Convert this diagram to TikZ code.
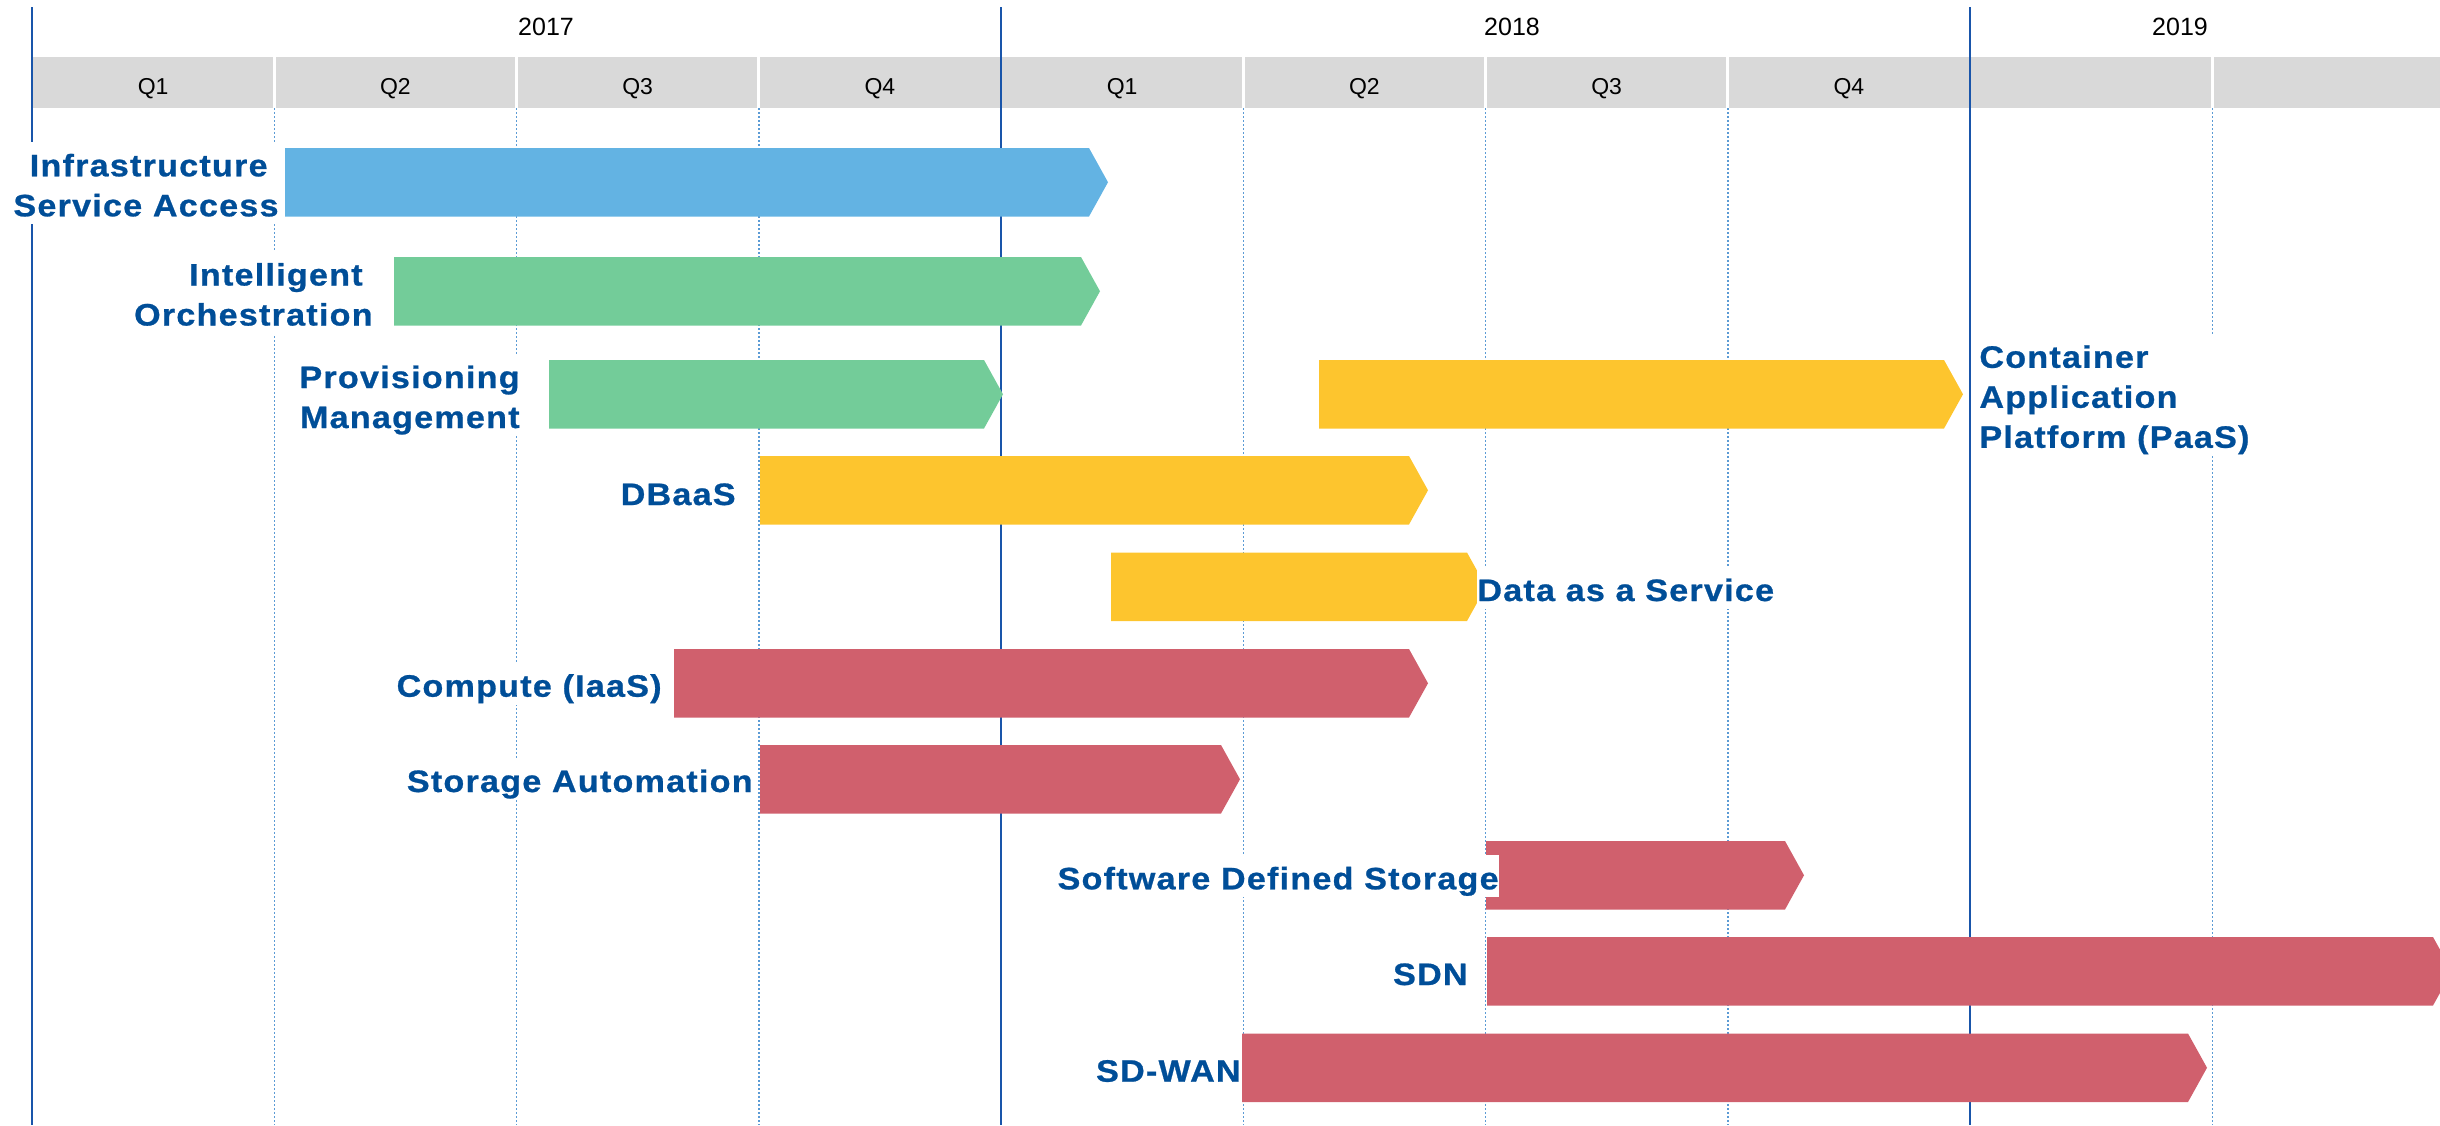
\documentclass[tikz,border=0pt]{standalone}
\usepackage{fontspec}
\setmainfont{Liberation Sans}
\newfontfamily\lblfont[FakeStretch=1.1, LetterSpace=4, BoldFeatures={FakeBold=0.8}]{Liberation Sans}
\definecolor{lblblue}{RGB}{0,78,152}
\definecolor{barblue}{RGB}{99,179,227}
\definecolor{bargreen}{RGB}{115,204,153}
\definecolor{baryellow}{RGB}{253,197,46}
\definecolor{barred}{RGB}{208,96,109}
\definecolor{bandgray}{RGB}{217,217,217}
\definecolor{yearline}{RGB}{25,85,170}
\definecolor{qline}{RGB}{91,155,213}
\newcommand\lbtop{\rule{0pt}{17pt}}
\newcommand\lbbot{\rule[-4pt]{0pt}{4pt}}
% colour, name, left, top, tip
\newcommand\ganttbar[5]{%
  \fill[#1] (#3,#4) -- ({#5-19},#4) -- (#5,{#4+34.25}) -- ({#5-19},{#4+68.5}) -- (#3,{#4+68.5}) -- cycle;
  \coordinate (#2) at (#3,{#4+34.25});}
\begin{document}
\begin{tikzpicture}[x=0.5pt,y=-0.5pt,
  lbl/.style={inner sep=0pt, fill=white, text=lblblue, font=\lblfont\bfseries\fontsize{15.5pt}{20pt}\selectfont},
  lbr/.style={lbl, anchor=east, align=right},
  lbw/.style={lbl, anchor=west, align=left},
  yeartxt/.style={anchor=base, inner sep=0pt, text=black, font=\fontsize{12.5pt}{14pt}\selectfont},
  qtxt/.style={anchor=base, inner sep=0pt, text=black, font=\fontsize{11.5pt}{13pt}\selectfont},
  yrule/.style={draw=yearline, line width=1pt},
  qrule/.style={draw=qline, line width=0.75pt, dash pattern=on 1pt off 1pt},
  sepline/.style={draw=white, line width=1.5pt}]
\useasboundingbox (0,0) rectangle (2440,1125);
\clip (0,0) rectangle (2440,1125);
% header band
\fill[bandgray] (32,57) rectangle (2440,108);
\foreach \k in {1,2,3,5,6,7,9} {
  \draw[sepline] ({32+242.25*\k},57) -- ({32+242.25*\k},108);
  \draw[qrule] ({32+242.25*\k},108) -- ({32+242.25*\k},1125);
}
\foreach \k in {0,4,8} {
  \draw[yrule] ({32+242.25*\k},7) -- ({32+242.25*\k},1125);
}
% header texts
\node[yeartxt] (y2017) at (546,35) {2017};
\node[yeartxt] (y2018) at (1512,35) {2018};
\node[yeartxt] (y2019) at (2180,35) {2019};
\foreach \q/\k in {Q1/0,Q2/1,Q3/2,Q4/3} {
  \node[qtxt] (a\q) at ({32+242.25*\k+121.1},94.5) {\q};
  \node[qtxt] (b\q) at ({1001+242.25*\k+121.1},94.5) {\q};
}
% bars
\ganttbar{barblue}{isa}{285}{148}{1108}
\ganttbar{bargreen}{io}{394}{257}{1100}
\ganttbar{bargreen}{pm}{549}{360}{1003}
\ganttbar{baryellow}{cap}{1319}{360}{1963}
\ganttbar{baryellow}{dbaas}{760}{456}{1428}
\ganttbar{baryellow}{daas}{1111}{552.5}{1486}
\ganttbar{barred}{iaas}{674}{649}{1428}
\ganttbar{barred}{sa}{760}{745}{1240}
\ganttbar{barred}{sds}{1486}{841}{1804}
\ganttbar{barred}{sdn}{1487}{937}{2452}
\ganttbar{barred}{sdwan}{1242}{1033.5}{2207}
% labels
\node[lbr] (lisa) at (279,183.3) {\lbtop Infrastructure\hspace*{5.5pt}\\Service Access\lbbot};
\node[lbr] (lio) at (373,292.5) {\lbtop Intelligent\hspace*{5pt}\\Orchestration\lbbot};
\node[lbr] (lpm) at (520,395) {\lbtop Provisioning\\Management\lbbot};
\node[lbw] (lcap) at (1979,394.8) {\lbtop Container\\Application\\Platform (PaaS)\lbbot};
\node[lbr] (ldbaas) at (736,492) {\lbtop\lbbot DBaaS};
\node[lbw] (ldaas) at (1477,588) {\lbtop\lbbot Data as a Service};
\node[lbr] (liaas) at (662,683.7) {\lbtop\lbbot Compute (IaaS)};
\node[lbr] (lsa) at (753,779) {\lbtop\lbbot Storage Automation};
\node[lbr] (lsds) at (1499,876.3) {\lbtop\lbbot Software Defined Storage};
\node[lbr] (lsdn) at (1468,972) {\lbtop\lbbot SDN};
\node[lbr] (lsdwan) at (1241,1068.7) {\lbtop\lbbot SD-WAN};
\end{tikzpicture}
\end{document}
